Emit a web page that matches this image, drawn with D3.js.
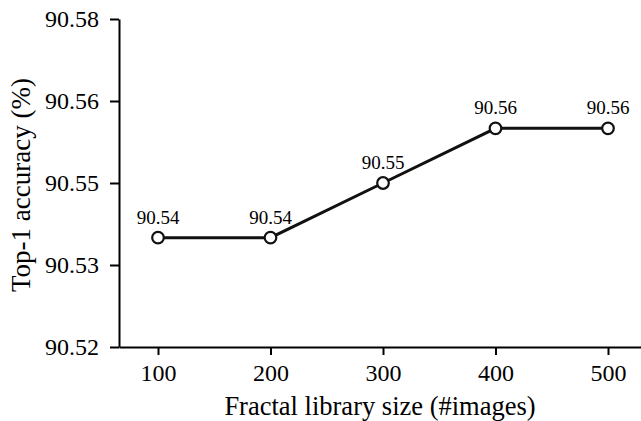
<!DOCTYPE html>
<html>
<head>
<meta charset="utf-8">
<script src="https://cdn.jsdelivr.net/npm/d3@7"></script>
<style>
  body { margin: 0; background: #fff; }
  svg text { font-family: "Liberation Serif", "Times New Roman", serif; fill: #000; }
</style>
</head>
<body>
<svg id="chart" width="641" height="421"></svg>
<script>
const librarySizes = [100, 200, 300, 400, 500];
const accuracy = [90.54, 90.54, 90.55, 90.56, 90.56];
const pointLabels = ["90.54", "90.54", "90.55", "90.56", "90.56"];
const yTickValues = [90.52, 90.535, 90.55, 90.565, 90.58];
const yTickLabels = ["90.52", "90.53", "90.55", "90.56", "90.58"];

const svg = d3.select("#chart");

// scales: 100 -> 158px, 500 -> 608px, axis runs from 119 to the right edge
const x = d3.scaleLinear()
  .domain([100 - 39 / 1.125, 500 + 33 / 1.125])
  .range([119, 641]);
const y = d3.scaleLinear()
  .domain([90.52, 90.58])
  .range([347, 19]);

// x axis
const xAxis = svg.append("g")
  .attr("transform", "translate(0,347)")
  .call(d3.axisBottom(x).tickValues(librarySizes).tickSize(8).tickSizeOuter(0).tickPadding(9));
xAxis.selectAll("text").style("font-size", "24px");

// y axis
const yAxis = svg.append("g")
  .attr("transform", "translate(119,0)")
  .call(d3.axisLeft(y).tickValues(yTickValues)
    .tickFormat((d, i) => yTickLabels[i]).tickSize(9).tickSizeOuter(0).tickPadding(11));
yAxis.selectAll("text").style("font-size", "24px");

svg.selectAll(".domain, .tick line").attr("stroke", "#000").attr("stroke-width", 2);

// line
const pts = librarySizes.map((s, i) => ({ s, v: accuracy[i], label: pointLabels[i] }));
svg.append("path")
  .datum(pts)
  .attr("fill", "none")
  .attr("stroke", "#111")
  .attr("stroke-width", 3)
  .attr("d", d3.line().x(d => x(d.s)).y(d => y(d.v)));

svg.selectAll("circle.pt")
  .data(pts)
  .enter()
  .append("circle")
  .attr("class", "pt")
  .attr("cx", d => x(d.s))
  .attr("cy", d => y(d.v))
  .attr("r", 5.8)
  .attr("fill", "#fff")
  .attr("stroke", "#111")
  .attr("stroke-width", 2.2);

svg.selectAll("text.val")
  .data(pts)
  .enter()
  .append("text")
  .attr("class", "val")
  .attr("x", d => x(d.s))
  .attr("y", d => y(d.v) - 14)
  .attr("text-anchor", "middle")
  .style("font-size", "19px")
  .text(d => d.label);

// axis titles
svg.append("text")
  .attr("x", 380)
  .attr("y", 415)
  .attr("text-anchor", "middle")
  .style("font-size", "26.5px")
  .text("Fractal library size (#images)");

svg.append("text")
  .attr("transform", "translate(30,185) rotate(-90)")
  .attr("text-anchor", "middle")
  .style("font-size", "27px")
  .text("Top-1 accuracy (%)");
</script>
</body>
</html>
